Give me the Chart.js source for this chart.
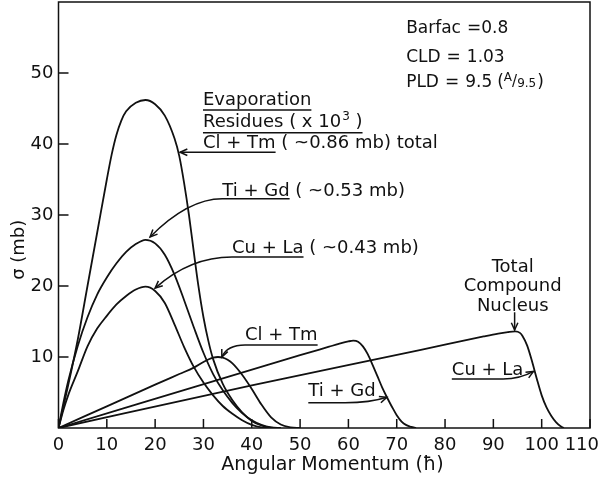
<!DOCTYPE html>
<html>
<head>
<meta charset="utf-8">
<script src="https://cdn.jsdelivr.net/npm/chart.js@4.4.1/dist/chart.umd.min.js"></script>
<style>
  html, body { margin: 0; padding: 0; background: #fff; }
  #wrap { width: 600px; height: 477px; }
</style>
</head>
<body>
<div id="wrap"><canvas id="chart" width="600" height="477"></canvas></div>
<script>
// axis ticks
const xTicks = [0, 10, 20, 30, 40, 50, 60, 70, 80, 90, 100, 110];
const yTicks = [10, 20, 30, 40, 50];

// evaporation residues (x10^3), angular momentum (hbar) vs sigma (mb)
const lEvapClTm = [0, 2, 4, 6, 8, 10, 11, 12, 13, 14, 16, 18, 20, 22, 24, 25, 26, 27, 28, 29, 30, 31, 32, 34, 36, 38, 40, 42, 44, 46];
const sEvapClTm = [0, 6.0, 12.5, 20.0, 27.5, 35.0, 38.5, 41.3, 43.3, 44.6, 45.8, 46.2, 45.6, 44.0, 40.8, 38.3, 34.5, 30.0, 24.8, 19.8, 15.6, 12.3, 9.7, 6.2, 3.9, 2.2, 1.0, 0.35, 0.05, 0];

const lEvapTiGd = [0, 1, 2, 4, 6, 8, 10, 12, 14, 16, 18, 20, 22, 24, 26, 28, 30, 32, 34, 36, 38, 40, 42, 44, 46];
const sEvapTiGd = [0, 3.5, 6.6, 11.6, 15.6, 18.8, 21.2, 23.2, 24.8, 25.9, 26.5, 26.0, 24.4, 21.6, 18.0, 14.2, 10.6, 7.6, 5.3, 3.5, 2.1, 1.1, 0.45, 0.1, 0];

const lEvapCuLa = [0, 1, 2, 4, 6, 8, 10, 12, 14, 16, 18, 20, 22, 24, 26, 28, 30, 32, 34, 36, 38, 40, 42, 44];
const sEvapCuLa = [0, 2.5, 4.6, 8.0, 11.5, 14.0, 15.8, 17.4, 18.6, 19.5, 19.9, 19.3, 17.6, 14.6, 11.4, 8.6, 6.4, 4.6, 3.1, 2.0, 1.1, 0.45, 0.1, 0];

// total compound nucleus cross sections
const lCnClTm = [0, 10, 20, 25, 28, 30, 31, 32, 33, 34, 35, 36, 38, 40, 42, 44, 46, 48, 50];
const sCnClTm = [0, 3.05, 6.1, 7.6, 8.5, 9.3, 9.65, 9.9, 10.0, 9.9, 9.6, 9.1, 7.5, 5.5, 3.3, 1.5, 0.5, 0.1, 0];

const lCnTiGd = [0, 50, 56, 58, 60, 61, 62, 63, 64, 65, 66, 67, 68, 69, 70, 71, 72, 73, 74];
const sCnTiGd = [0, 10.25, 11.45, 11.85, 12.2, 12.3, 12.15, 11.5, 10.4, 8.9, 7.3, 5.7, 4.3, 3.0, 1.8, 0.9, 0.4, 0.15, 0];

const lCnCuLa = [0, 40, 75, 88, 91, 93, 94.5, 95.5, 96, 97, 98, 99, 100, 101, 102, 103, 104, 104.6];
const sCnCuLa = [0, 6.0, 11.0, 12.9, 13.3, 13.5, 13.6, 13.4, 13.0, 11.6, 9.4, 6.9, 4.6, 2.9, 1.7, 0.8, 0.2, 0];

const FONT = '"DejaVu Sans", sans-serif';
const INK = '#111';

const series = [
  ['ER Cl+Tm', lEvapClTm, sEvapClTm],
  ['ER Ti+Gd', lEvapTiGd, sEvapTiGd],
  ['ER Cu+La', lEvapCuLa, sEvapCuLa],
  ['CN Cl+Tm', lCnClTm, sCnClTm],
  ['CN Ti+Gd', lCnTiGd, sCnTiGd],
  ['CN Cu+La', lCnCuLa, sCnCuLa]
];

function arrowHead(ctx, fx, fy, tx, ty) {
  const a = Math.atan2(ty - fy, tx - fx);
  const len = 8, spread = 0.42;
  ctx.beginPath();
  ctx.moveTo(tx - len * Math.cos(a - spread), ty - len * Math.sin(a - spread));
  ctx.lineTo(tx, ty);
  ctx.lineTo(tx - len * Math.cos(a + spread), ty - len * Math.sin(a + spread));
  ctx.stroke();
}

const annotations = {
  id: 'annotations',
  afterDraw(chart) {
    const { ctx, chartArea: a, scales: { x, y } } = chart;
    const X = v => x.getPixelForValue(v), Y = v => y.getPixelForValue(v);
    const put = (s, px, py, size = 18, align = 'left') => {
      ctx.font = `${size}px ${FONT}`;
      ctx.textAlign = align;
      ctx.fillText(s, px, py);
      return ctx.measureText(s).width;
    };
    const line = (x1, y1, x2, y2) => { ctx.beginPath(); ctx.moveTo(x1, y1); ctx.lineTo(x2, y2); ctx.stroke(); };

    ctx.save();
    ctx.strokeStyle = INK; ctx.fillStyle = INK; ctx.lineWidth = 1.5;
    ctx.textBaseline = 'middle';

    // frame + inward ticks
    ctx.strokeRect(a.left, a.top, a.right - a.left, a.bottom - a.top);
    ctx.beginPath();
    xTicks.forEach(v => { ctx.moveTo(X(v), a.bottom); ctx.lineTo(X(v), a.bottom - 9); });
    yTicks.forEach(v => { ctx.moveTo(a.left, Y(v)); ctx.lineTo(a.left + 10, Y(v)); });
    ctx.stroke();

    // x tick labels (last one kept inside the canvas)
    ctx.font = `18px ${FONT}`;
    ctx.textAlign = 'center';
    ctx.textBaseline = 'alphabetic';
    xTicks.forEach(v => {
      const w = ctx.measureText(String(v)).width;
      const cx = Math.min(X(v), chart.width - 1 - w / 2);
      ctx.fillText(String(v), cx, a.bottom + 22);
    });

    // axis titles
    put('Angular Momentum (\u0127)', X(56.7), a.bottom + 42, 19, 'center');
    ctx.save();
    ctx.translate(a.left - 39, Y(25.1));
    ctx.rotate(-Math.PI / 2);
    ctx.textBaseline = 'middle';
    put('\u03c3 (mb)', 0, 0, 18, 'center');
    ctx.restore();
    ctx.textBaseline = 'middle';

    // parameter block
    const px0 = X(71.95);
    let cx = px0 + put('Barfac', px0, Y(56.3), 17);
    put('=0.8', cx + 6, Y(56.3), 17);
    cx = px0 + put('CLD', px0, Y(52.2), 17) + 6;
    cx += put('=', cx, Y(52.2), 17) + 6;
    put('1.03', cx, Y(52.2), 17);
    cx = px0 + put('PLD', px0, Y(48.7), 17) + 6;
    cx += put('=', cx, Y(48.7), 17) + 6;
    cx += put('9.5', cx, Y(48.7), 17) + 5;
    cx += put('(', cx, Y(48.7), 17);
    cx += put('A', cx, Y(48.7) - 4, 12);
    cx += put('/', cx, Y(48.7), 15);
    cx += put('9.5', cx, Y(48.7) + 2, 12);
    put(')', cx + 1, Y(48.7), 17);

    // evaporation residue block
    const ex = X(29.9);
    let w = put('Evaporation', ex, Y(46.2));
    line(ex, Y(46.2) + 10, ex + w, Y(46.2) + 10);
    w = put('Residues ( x 10', ex, Y(43.0));
    w += put('3', ex + w + 1, Y(43.0) - 6, 12) + 1;
    w += put(' )', ex + w, Y(43.0));
    line(ex, Y(43.0) + 10, ex + w, Y(43.0) + 10);
    w = put('Cl + Tm', ex, Y(40.1));
    put(' ( ~0.86 mb) total', ex + w, Y(40.1));
    const uy = Y(40.1) + 9;
    line(X(25.15), uy, ex + w, uy);
    arrowHead(ctx, ex, uy, X(25.15), uy);

    // Ti + Gd evaporation label
    const tx = X(33.9), ty = Y(33.4);
    w = put('Ti + Gd', tx, ty);
    put(' ( ~0.53 mb)', tx + w, ty);
    ctx.beginPath();
    ctx.moveTo(tx + w, ty + 8);
    ctx.lineTo(tx, ty + 8);
    ctx.quadraticCurveTo(X(26.8), ty + 8, X(18.95), Y(26.9));
    ctx.stroke();
    arrowHead(ctx, X(26.8), ty + 8, X(18.95), Y(26.9));

    // Cu + La evaporation label
    const cux = X(35.9), cuy = Y(25.35);
    w = put('Cu + La', cux, cuy);
    put(' ( ~0.43 mb)', cux + w, cuy);
    ctx.beginPath();
    ctx.moveTo(cux + w, cuy + 9);
    ctx.lineTo(cux, cuy + 9);
    ctx.quadraticCurveTo(X(27.2), cuy + 9, X(20.0), Y(19.7));
    ctx.stroke();
    arrowHead(ctx, X(27.2), cuy + 9, X(20.0), Y(19.7));

    // Cl + Tm compound nucleus label
    const clx = X(38.6), cly = Y(13.1);
    w = put('Cl + Tm', clx, cly);
    ctx.beginPath();
    ctx.moveTo(clx + w, cly + 10);
    ctx.lineTo(clx, cly + 10);
    ctx.quadraticCurveTo(X(34.9), cly + 10, X(33.8), Y(10.0));
    ctx.stroke();
    arrowHead(ctx, X(34.9), cly + 10, X(33.8), Y(10.0));

    // Ti + Gd compound nucleus label
    const tgx = X(51.7), tgy = Y(5.1);
    put('Ti + Gd', tgx, tgy);
    ctx.beginPath();
    ctx.moveTo(tgx, tgy + 11);
    ctx.lineTo(X(59.3), tgy + 11);
    ctx.quadraticCurveTo(X(64.5), tgy + 11, X(67.95), Y(4.32));
    ctx.stroke();
    arrowHead(ctx, X(64.5), tgy + 11, X(67.95), Y(4.32));

    // Cu + La compound nucleus label
    const clax = X(81.4), clay = Y(8.17);
    put('Cu + La', clax, clay);
    ctx.beginPath();
    ctx.moveTo(clax, clay + 9);
    ctx.lineTo(X(92.0), clay + 9);
    ctx.quadraticCurveTo(X(95.5), clay + 9, X(98.3), Y(7.97));
    ctx.stroke();
    arrowHead(ctx, X(95.5), clay + 9, X(98.3), Y(7.97));

    // total compound nucleus
    put('Total', X(94.0), Y(22.7), 18, 'center');
    put('Compound', X(94.0), Y(20.0), 18, 'center');
    put('Nucleus', X(94.0), Y(17.2), 18, 'center');
    line(X(94.4), Y(16.3), X(94.4), Y(13.8));
    arrowHead(ctx, X(94.4), Y(16.3), X(94.4), Y(13.8));

    ctx.restore();
  }
};

new Chart(document.getElementById('chart'), {
  type: 'scatter',
  data: {
    datasets: series.map(([name, ls, ss]) => ({
      label: name,
      data: ls.map((l, i) => ({ x: l, y: ss[i] })),
      showLine: true,
      borderColor: INK,
      borderWidth: 1.8,
      pointRadius: 0,
      fill: false,
      cubicInterpolationMode: 'monotone'
    }))
  },
  options: {
    responsive: false,
    animation: false,
    events: [],
    layout: { padding: { top: 2, right: 10, left: 0, bottom: 0 } },
    plugins: { legend: { display: false }, tooltip: { enabled: false } },
    scales: {
      x: {
        type: 'linear', min: 0, max: 110,
        afterBuildTicks: s => { s.ticks = xTicks.map(v => ({ value: v })); },
        grid: { display: false, drawTicks: false },
        border: { display: false },
        ticks: { display: false },
        afterFit: s => { s.height = 49; s.paddingLeft = 0; s.paddingRight = 0; }
      },
      y: {
        type: 'linear', min: 0, max: 60,
        afterBuildTicks: s => { s.ticks = yTicks.map(v => ({ value: v })); },
        grid: { display: false, drawTicks: false },
        border: { display: false },
        ticks: { color: INK, padding: 5, font: { family: FONT, size: 18 } },
        afterFit: s => { s.width = 58.5; s.paddingTop = 0; s.paddingBottom = 0; }
      }
    }
  },
  plugins: [annotations]
});
</script>
</body>
</html>
